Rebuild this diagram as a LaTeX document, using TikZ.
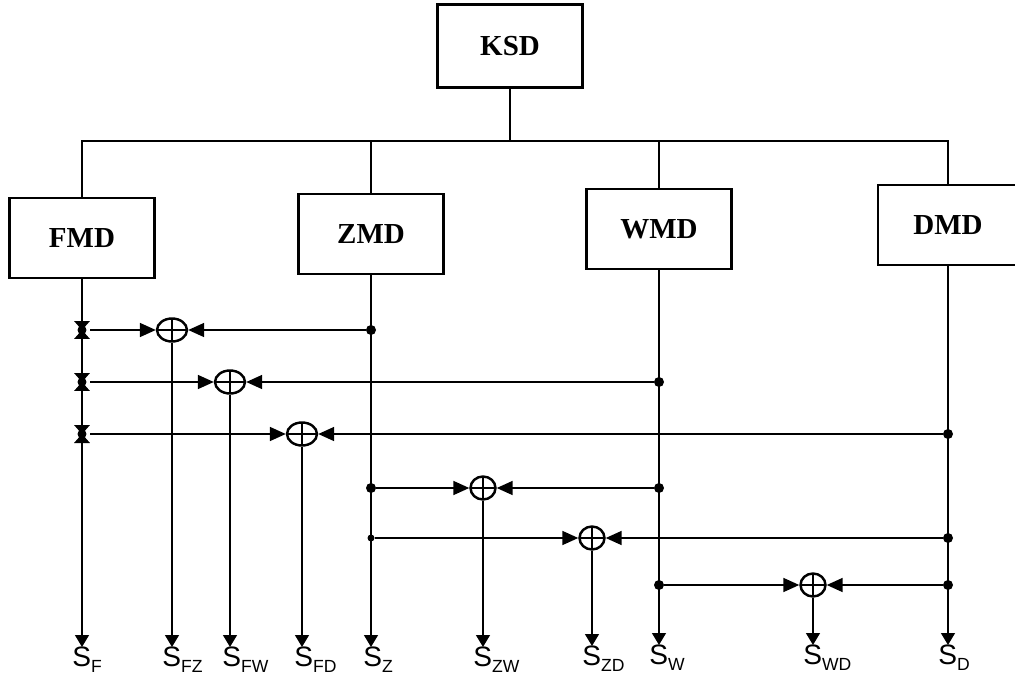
\documentclass[tikz,border=0pt]{standalone}
\usepackage{fontspec}
\setmainfont{Liberation Serif}
\newfontfamily\sigfont{Liberation Sans}
\usetikzlibrary{positioning,arrows.meta,calc,shapes.geometric}

\newcommand{\sig}[1]{{\sigfont\fontsize{16}{16}\selectfont S\raisebox{-0.4ex}{\fontsize{10}{10}\selectfont #1}}}

\begin{document}
\begin{tikzpicture}[x=0.02cm, y=-0.02cm,
    blk/.style={draw, line width=1.3pt, minimum width=2.9cm, minimum height=1.6cm,
      font=\fontsize{16.5}{16.5}\selectfont\bfseries},
    sum/.style={ellipse, draw, line width=1.4pt, inner sep=0pt, minimum width=0.6cm,
      minimum height=0.46cm,
      path picture={\draw[line width=0.7pt]
        (path picture bounding box.north) -- (path picture bounding box.south)
        (path picture bounding box.west) -- (path picture bounding box.east);}},
    jn/.style={circle, fill, inner sep=0pt, minimum size=0.2cm},
    hg/.style={inner sep=0pt, minimum width=0.32cm, minimum height=0.36cm,
      path picture={\fill (path picture bounding box.north west) -- (path picture bounding box.north east)
        -- (path picture bounding box.center) -- cycle
        (path picture bounding box.south west) -- (path picture bounding box.south east)
        -- (path picture bounding box.center) -- cycle;
        \fill (path picture bounding box.center) circle (0.09cm);}},
    feed/.style={-{Triangle[length=3.2mm,width=2.8mm]}, line width=1pt},
    sigline/.style={-{Triangle[length=2.4mm,width=2.8mm]}, line width=0.7pt},
    wire/.style={line width=0.7pt},
    lbl/.style={inner sep=0pt, anchor=north west},
  ]
  \useasboundingbox (0,0) rectangle (1015,679);

  % boxes
  \node[blk, minimum height=1.66cm] (ksd) at (510,46) {KSD};
  \node[blk] (fmd) at (82,238) {FMD};
  \node[blk] (zmd) at (371,234) {ZMD};
  \node[blk] (wmd) at (659,229) {WMD};
  \node[blk, minimum width=2.8cm] (dmd) at (948,225) {DMD};

  % bus
  \coordinate (bus) at (510,141);
  \draw[wire] (ksd) -- (ksd |- bus);
  \draw[wire] (fmd.north) |- (bus) -| (dmd.north);
  \draw[wire] (zmd.north) -- (zmd.north |- bus);
  \draw[wire] (wmd.north) -- (wmd.north |- bus);

  % output labels
  \node[lbl] (lf) at (72,647) {\sig{F}};
  \node[lbl] (lfz) at (162,647) {\sig{FZ}};
  \node[lbl] (lfw) at (222,647) {\sig{FW}};
  \node[lbl] (lfd) at (294,647) {\sig{FD}};
  \node[lbl] (lz) at (363,647) {\sig{Z}};
  \node[lbl] (lzw) at (473,647) {\sig{ZW}};
  \node[lbl] (lzd) at (582,646) {\sig{ZD}};
  \node[lbl] (lw) at (649,645) {\sig{W}};
  \node[lbl] (lwd) at (803,645) {\sig{WD}};
  \node[lbl] (ld) at (938,645) {\sig{D}};

  % main signal lines
  \draw[sigline] (fmd.south) -- (fmd.south |- lf.north);
  \draw[sigline] (zmd.south) -- (zmd.south |- lz.north);
  \draw[sigline] (wmd.south) -- (wmd.south |- lw.north);
  \draw[sigline] (dmd.south) -- (dmd.south |- ld.north);

  % junctions
  \node[hg] (f1) at (82,330) {};
  \node[hg] (f2) at (82,382) {};
  \node[hg] (f3) at (82,434) {};
  \node[jn] (z1) at (371,330) {};
  \node[jn] (w2) at (659,382) {};
  \node[jn] (d3) at (948,434) {};
  \node[jn] (z4) at (371,488) {};
  \node[jn] (w4) at (659,488) {};
  \node[jn, minimum size=0.14cm] (z5) at (371,538) {};
  \node[jn] (d5) at (948,538) {};
  \node[jn] (w6) at (659,585) {};
  \node[jn] (d6) at (948,585) {};

  % summing points
  \node[sum] (sfz) at (172,330) {};
  \node[sum] (sfw) at (230,382) {};
  \node[sum] (sfd) at (302,434) {};
  \node[sum, minimum width=0.5cm] (szw) at (483,488) {};
  \node[sum, minimum width=0.5cm] (szd) at (592,538) {};
  \node[sum, minimum width=0.5cm] (swd) at (813,585) {};

  \draw[feed] (f1) -- (sfz);
  \draw[feed] (z1) -- (sfz);
  \draw[feed] (f2) -- (sfw);
  \draw[feed] (w2) -- (sfw);
  \draw[feed] (f3) -- (sfd);
  \draw[feed] (d3) -- (sfd);
  \draw[feed] (z4) -- (szw);
  \draw[feed] (w4) -- (szw);
  \draw[feed] (z5) -- (szd);
  \draw[feed] (d5) -- (szd);
  \draw[feed] (w6) -- (swd);
  \draw[feed] (d6) -- (swd);

  \draw[sigline] (sfz) -- (sfz |- lfz.north);
  \draw[sigline] (sfw) -- (sfw |- lfw.north);
  \draw[sigline] (sfd) -- (sfd |- lfd.north);
  \draw[sigline] (szw) -- (szw |- lzw.north);
  \draw[sigline] (szd) -- (szd |- lzd.north);
  \draw[sigline] (swd) -- (swd |- lwd.north);
\end{tikzpicture}
\end{document}
